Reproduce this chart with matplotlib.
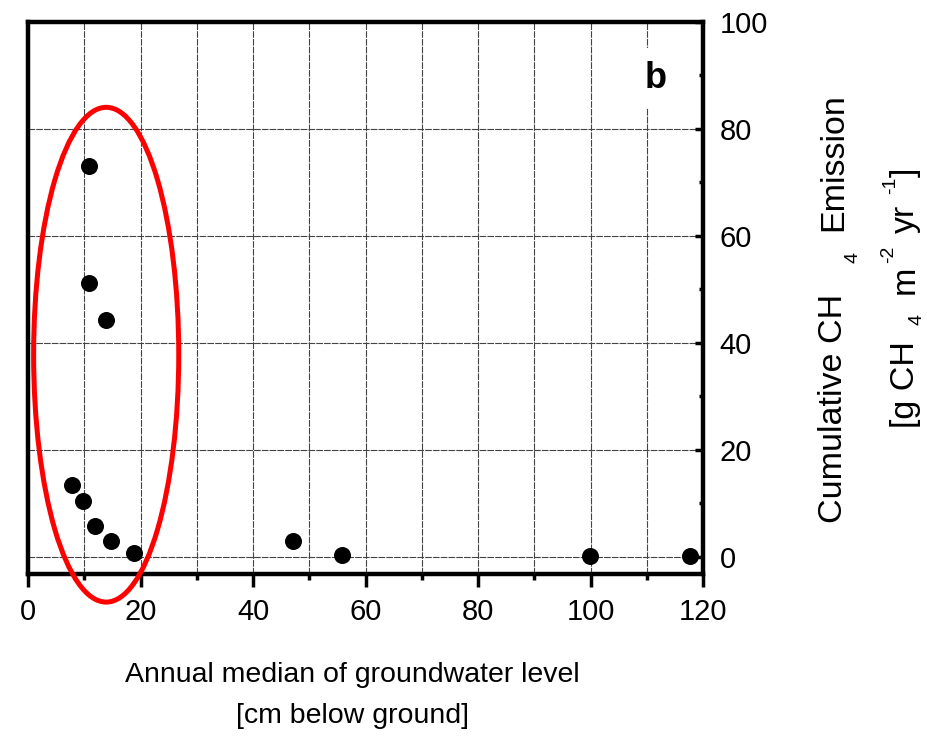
import matplotlib
matplotlib.use("Agg")
import matplotlib.pyplot as plt
from matplotlib.patches import Ellipse
from matplotlib.ticker import MultipleLocator

plt.rcParams['font.family'] = ['Liberation Sans', 'DejaVu Sans']

# annual median groundwater level [cm below ground] vs cumulative CH4 emission
gw_level = [7.8, 9.8, 10.9, 10.9, 11.9, 13.9, 14.8, 18.9, 47.1, 55.8, 99.9, 117.7]
ch4_emission = [13.5, 10.5, 73.0, 51.2, 5.8, 44.2, 3.0, 0.7, 3.0, 0.4, 0.2, 0.1]

# highlighted group (ellipse): centre, width, height in data units
ell_center = (13.9, 37.8)
ell_width = 25.8
ell_height = 92.5

W, H = 927, 736
fig = plt.figure(figsize=(W / 100, H / 100), dpi=100)
ax = fig.add_axes([0.0302, 0.2201, 0.7282, 0.75])

ax.scatter(gw_level, ch4_emission, s=150, color='black', zorder=3, linewidths=0)

ell = Ellipse(ell_center, ell_width, ell_height, fill=False, edgecolor='#ff0000',
              linewidth=3.6, clip_on=False, zorder=4)
ax.add_patch(ell)

ax.set_xlim(0, 120)
ax.set_ylim(-3.2, 100)

ax.xaxis.set_major_locator(MultipleLocator(20))
ax.xaxis.set_minor_locator(MultipleLocator(10))
ax.yaxis.set_major_locator(MultipleLocator(20))
ax.yaxis.set_minor_locator(MultipleLocator(10))

ax.yaxis.tick_right()
ax.tick_params(axis='x', which='major', direction='out', length=9, width=2.5,
               labelsize=21, pad=8)
ax.tick_params(axis='x', which='minor', direction='out', length=4, width=2.5)
ax.tick_params(axis='y', which='major', direction='in', length=6, width=2.5,
               labelsize=21, pad=12, left=False, right=True)
ax.tick_params(axis='y', which='minor', direction='in', length=3, width=2.5,
               left=False, right=True)

ax.grid(True, which='both', axis='x', color='#444444', linewidth=0.8,
        linestyle=(0, (6, 1)))
ax.grid(True, which='major', axis='y', color='#444444', linewidth=0.8,
        linestyle=(0, (6, 1)))
ax.set_axisbelow(True)

for sp in ax.spines.values():
    sp.set_linewidth(3.2)

ax.text(111.5, 89.5, 'b', fontsize=26, fontweight='bold', ha='center', va='center',
        bbox=dict(facecolor='white', edgecolor='none', pad=9), zorder=5)

fig.text(352 / W, 1 - 682 / H, 'Annual median of groundwater level',
         fontsize=20.5, ha='center', va='baseline')
fig.text(352 / W, 1 - 723 / H, '[cm below ground]',
         fontsize=20.5, ha='center', va='baseline')


def vtext(s, x, y, size):
    # rotated label piece: (x, y) = start of the baseline in pixels
    fig.text(x / W, 1 - y / H, s, fontsize=size, rotation=90,
             rotation_mode='anchor', ha='left', va='baseline')


# right axis label, line 1
vtext('Cumulative CH', 842, 523, 24.5)
vtext('4', 857, 263, 14)
vtext('Emission', 842, 231, 24.5)
# right axis label, line 2
vtext('[g CH', 914, 428, 24.5)
vtext('4', 921, 325, 14)
vtext('m', 914, 294, 24.5)
vtext('-2', 893, 263, 14)
vtext('yr', 914, 233, 24.5)
vtext('-1', 895, 194, 14)
vtext(']', 914, 177, 24.5)

fig.savefig('out.png', dpi=100)
